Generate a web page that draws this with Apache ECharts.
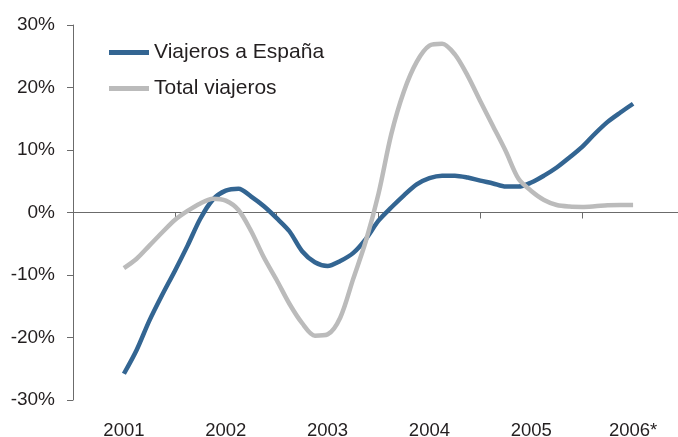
<!DOCTYPE html>
<html>
<head>
<meta charset="utf-8">
<script src="https://cdn.jsdelivr.net/npm/echarts@6/dist/echarts.min.js"></script>
<style>
html,body{margin:0;padding:0;background:#fff;}
#chart{width:678px;height:437px;}
</style>
</head>
<body>
<div id="chart"></div>
<script>
// Year labels (category centres)
const yearLabels = ['2001', '2002', '2003', '2004', '2005', '2006*'];
// Observation times (decimal years, 2001 = centre of first category)
const periods = [2001.000, 2001.125, 2001.250, 2001.375, 2001.500, 2001.625, 2001.750, 2001.875,
                 2002.000, 2002.125, 2002.250, 2002.375, 2002.500, 2002.625, 2002.750, 2002.875,
                 2003.000, 2003.125, 2003.250, 2003.375, 2003.500, 2003.625, 2003.750, 2003.875,
                 2004.000, 2004.125, 2004.250, 2004.375, 2004.500, 2004.625, 2004.750, 2004.875,
                 2005.000, 2005.125, 2005.250, 2005.375, 2005.500, 2005.625, 2005.750, 2005.875,
                 2006.000];
// Viajeros a España (%)
const viajerosEspana = [-25.8, -22.0, -17.3, -13.2, -9.35, -5.3, -1.0, 2.1, 3.5, 3.8,
                        2.55, 1.0, -0.9, -3.0, -6.2, -7.95, -8.55, -7.75, -6.5, -4.25,
                        -1.3, 0.8, 2.75, 4.5, 5.5, 5.9, 5.9, 5.6, 5.1, 4.65,
                        4.15, 4.15, 4.8, 5.9, 7.2, 8.8, 10.5, 12.6, 14.5, 16.0, 17.4];
// Total viajeros (%)
const totalViajeros = [-8.9, -7.4, -5.3, -3.2, -1.2, 0.25, 1.45, 2.2, 1.9, 0.4,
                       -3.0, -7.2, -10.8, -14.6, -17.7, -19.7, -19.5, -16.8, -10.7, -4.6,
                       3.0, 12.5, 19.4, 24.1, 26.7, 27.0, 25.3, 21.9, 17.8, 13.8,
                       9.8, 5.4, 3.45, 2.0, 1.2, 0.95, 0.9, 1.0, 1.15, 1.2, 1.2];
const yTicks = [-30, -20, -10, 0, 10, 20, 30];

const FONT = '"Liberation Sans", Arial, Helvetica, sans-serif';
const TXT = '#231f20';
const AX = '#6b6b6b';
const origin = 2000.5; // left edge of the first year band

function pairs(vals) { return periods.map((p, i) => [p - origin, vals[i]]); }

const chart = echarts.init(document.getElementById('chart'), null, {renderer: 'canvas'});
chart.setOption({
  animation: false,
  backgroundColor: '#ffffff',
  textStyle: {fontFamily: FONT},
  grid: {left: 73, top: 25, width: 611, height: 375, containLabel: false, outerBoundsMode: 'none'},
  legend: {
    orient: 'vertical',
    left: 104, top: 37,
    padding: 5,
    icon: 'rect',
    itemWidth: 40, itemHeight: 5,
    itemGap: 15,
    textStyle: {fontSize: 21, color: TXT, fontFamily: FONT},
    data: ['Viajeros a España', 'Total viajeros']
  },
  xAxis: [
    {
      type: 'value', min: 0, max: 6, interval: 1,
      axisLine: {show: true, onZero: true, lineStyle: {color: AX, width: 1}},
      axisTick: {show: true, length: 6, inside: false, lineStyle: {color: AX, width: 1}},
      axisLabel: {show: false},
      splitLine: {show: false}
    },
    {
      type: 'category', position: 'bottom', data: yearLabels, boundaryGap: true,
      axisLine: {show: false, onZero: false},
      axisTick: {show: false},
      axisLabel: {margin: 21, fontSize: 18.5, color: TXT, fontFamily: FONT},
      splitLine: {show: false}
    }
  ],
  yAxis: {
    type: 'value', min: yTicks[0], max: yTicks[yTicks.length - 1], interval: 10,
    axisLine: {show: true, lineStyle: {color: AX, width: 1}},
    axisTick: {show: true, length: 6, inside: false, lineStyle: {color: AX, width: 1}},
    axisLabel: {margin: 18, fontSize: 19, color: TXT, fontFamily: FONT, formatter: '{value}%'},
    splitLine: {show: false}
  },
  series: [
    {
      name: 'Viajeros a España', type: 'line', xAxisIndex: 0,
      data: pairs(viajerosEspana),
      smooth: 0.3, showSymbol: false, symbol: 'none',
      itemStyle: {color: '#336592'},
      lineStyle: {color: '#336592', width: 4.5, cap: 'butt', join: 'round'}
    },
    {
      name: 'Total viajeros', type: 'line', xAxisIndex: 0,
      data: pairs(totalViajeros),
      smooth: 0.3, showSymbol: false, symbol: 'none',
      itemStyle: {color: '#bbbbbb'},
      lineStyle: {color: '#bbbbbb', width: 4.5, cap: 'butt', join: 'round'}
    }
  ]
});
</script>
</body>
</html>
